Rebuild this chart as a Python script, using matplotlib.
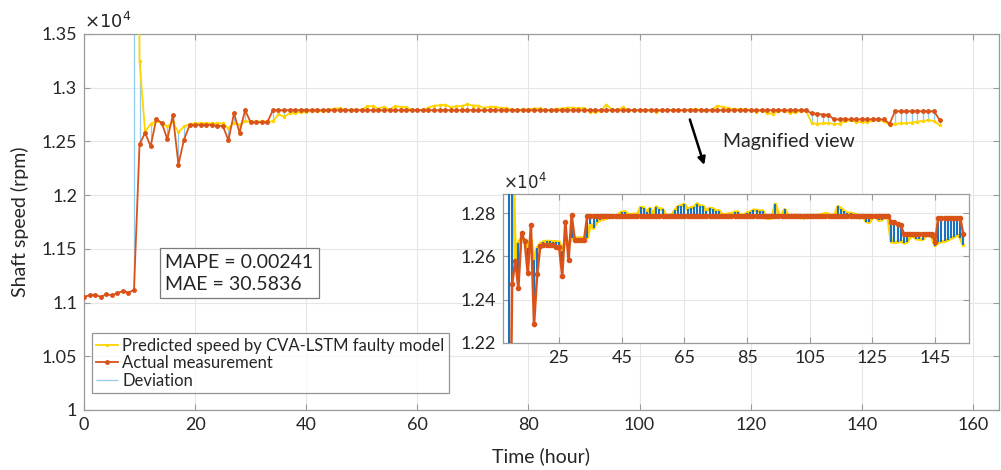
import numpy as np
import matplotlib
matplotlib.use("Agg")
import matplotlib.pyplot as plt
from matplotlib.ticker import FuncFormatter

plt.rcParams["font.family"] = ["Lato", "DejaVu Sans"]

# hourly shaft speed, rpm
hours = np.arange(0, 155)

actual = [
    11052, 11068, 11074, 11052, 11077, 11068, 11086, 11108, 11093, 11117,
    12472, 12580, 12454, 12708, 12672, 12521, 12744, 12285, 12517, 12650,
    12655, 12655, 12655, 12653, 12645, 12643, 12511, 12762, 12582, 12791,
    12678, 12678, 12678, 12678, 12790, 12790, 12790, 12790, 12790, 12790,
    12790, 12790, 12790, 12790, 12790, 12790, 12790, 12790, 12790, 12790,
    12790, 12790, 12790, 12790, 12790, 12790, 12790, 12790, 12790, 12790,
    12790, 12790, 12790, 12790, 12790, 12790, 12790, 12790, 12790, 12790,
    12790, 12790, 12790, 12790, 12790, 12790, 12790, 12790, 12790, 12790,
    12790, 12790, 12790, 12790, 12790, 12790, 12790, 12790, 12790, 12790,
    12790, 12790, 12790, 12790, 12790, 12790, 12790, 12790, 12790, 12790,
    12790, 12790, 12790, 12790, 12790, 12790, 12790, 12790, 12790, 12790,
    12790, 12790, 12790, 12790, 12790, 12790, 12790, 12790, 12790, 12790,
    12790, 12790, 12790, 12790, 12790, 12790, 12790, 12790, 12790, 12790,
    12790, 12760, 12758, 12749, 12747, 12705, 12705, 12705, 12705, 12705,
    12705, 12705, 12705, 12705, 12705, 12665, 12780, 12780, 12780, 12780,
    12780, 12780, 12780, 12780, 12702,
]

nan = np.nan
predicted = [
    nan, nan, nan, nan, nan, nan, nan, nan, nan, 25000,
    13249, 12587, 12664, 12690, 12670, 12639, 12680, 12584, 12639, 12660,
    12668, 12670, 12670, 12668, 12668, 12667, 12624, 12672, 12655, 12686,
    12685, 12686, 12686, 12686, 12686, 12752, 12730, 12760, 12768, 12772,
    12777, 12783, 12785, 12781, 12796, 12805, 12808, 12795, 12794, 12796,
    12795, 12828, 12826, 12805, 12823, 12795, 12830, 12820, 12819, 12791,
    12790, 12792, 12815, 12832, 12836, 12842, 12818, 12826, 12828, 12845,
    12834, 12833, 12811, 12823, 12822, 12812, 12813, 12795, 12792, 12798,
    12797, 12805, 12807, 12790, 12791, 12803, 12806, 12815, 12814, 12810,
    12812, 12778, 12777, 12780, 12843, 12798, 12790, 12818, 12791, 12789,
    12790, 12791, 12788, 12777, 12790, 12791, 12790, 12789, 12791, 12795,
    12799, 12797, 12780, 12792, 12832, 12822, 12810, 12801, 12800, 12798,
    12792, 12778, 12790, 12762, 12758, 12782, 12785, 12768, 12770, 12783,
    12780, 12668, 12665, 12667, 12672, 12663, 12665, 12690, 12695, 12682,
    12680, 12678, 12695, 12698, 12688, 12650, 12665, 12668, 12670, 12676,
    12685, 12690, 12700, 12688, 12652,
]

mape = 0.00241
mae = 30.5836

main_xticks = [0, 20, 40, 60, 80, 100, 120, 140, 160]
main_yticks = [10000, 10500, 11000, 11500, 12000, 12500, 13000, 13500]
inset_xticks = [25, 45, 65, 85, 105, 125, 145]
inset_yticks = [12200, 12400, 12600, 12800]

actual = np.array(actual, dtype=float)
predicted = np.array(predicted, dtype=float)
has_pred = ~np.isnan(predicted)

YELLOW = "#FFD400"
RED = "#D95319"
LIGHTBLUE = "#8FCBEE"
BLUE = "#1A73C0"
TXT = "#262626"
FRAME = "#9A9A9A"

sci = FuncFormatter(lambda v, p: f"{v / 1e4:g}")


def style_axes(ax, fs):
    ax.grid(True, color="#E6E6E6", linewidth=0.8)
    ax.set_axisbelow(True)
    ax.tick_params(direction="in", top=True, right=True, labelsize=fs,
                   colors=FRAME, labelcolor=TXT, length=4, pad=5)
    for s in ax.spines.values():
        s.set_color(FRAME)
        s.set_linewidth(0.9)
    ax.yaxis.set_major_formatter(sci)


fig = plt.figure(figsize=(10.01, 4.70), dpi=100)

ax = fig.add_axes([0.0839, 0.1277, 0.9141, 0.80])
ax.plot(hours, predicted, "-", color=YELLOW, lw=1.3, marker=".", ms=3,
        label="Predicted speed by CVA-LSTM faulty model", zorder=3)
ax.plot(hours, actual, "-", color=RED, lw=1.3, marker=".", ms=5,
        label="Actual measurement", zorder=4)
ax.vlines(hours[has_pred], actual[has_pred], predicted[has_pred],
          color=LIGHTBLUE, lw=0.9, label="Deviation", zorder=2)
ax.set_xlim(0, 164.7)
ax.set_ylim(10000, 13500)
ax.set_xticks(main_xticks)
ax.set_yticks(main_yticks)
style_axes(ax, 13)
ax.set_xlabel("Time (hour)", fontsize=14, color=TXT, labelpad=10)
ax.set_ylabel("Shaft speed (rpm)", fontsize=14, color=TXT, labelpad=9)
ax.text(0.0, 1.008, r"$\times10^4$", transform=ax.transAxes, fontsize=13,
        color=TXT, ha="left", va="bottom")

leg = ax.legend(loc="lower left", bbox_to_anchor=(0.009, 0.045),
                borderaxespad=0, fontsize=12, fancybox=False,
                handlelength=1.3, handletextpad=0.25, borderpad=0.25,
                labelspacing=0.1)
leg.get_frame().set_edgecolor("#7A7A7A")
leg.get_frame().set_linewidth(0.9)
for t in leg.get_texts():
    t.set_color(TXT)

ax.text(0.089, 0.364, f"MAPE = {mape}\nMAE = {mae}", transform=ax.transAxes,
        fontsize=14, color=TXT, va="center", ha="left", linespacing=1.35,
        bbox=dict(boxstyle="square,pad=0.3", fc="white", ec="#7A7A7A", lw=0.9))

ax.annotate("", xy=(111.8, 12256), xytext=(108.9, 12729),
            arrowprops=dict(arrowstyle="-|>", color="black", lw=1.8,
                            mutation_scale=11))
ax.text(115.0, 12497, "Magnified view", fontsize=14, color=TXT,
        ha="left", va="center")

# magnified view
axi = fig.add_axes([0.5022, 0.2709, 0.4661, 0.3164])
axi.set_facecolor("white")
axi.plot(hours, predicted, "-", color=YELLOW, lw=2.4, zorder=2)
axi.vlines(hours[has_pred], actual[has_pred], predicted[has_pred],
           color=BLUE, lw=1.5, zorder=3)
axi.plot(hours, actual, "-", color=RED, lw=1.8, marker="o", ms=3,
         zorder=4)
axi.set_xlim(7, 155.9)
axi.set_ylim(12200, 12890)
axi.set_xticks(inset_xticks)
axi.set_yticks(inset_yticks)
style_axes(axi, 13)
axi.text(0.0, 1.01, r"$\times10^4$", transform=axi.transAxes, fontsize=12,
         color=TXT, ha="left", va="bottom")

fig.savefig("out.png", dpi=100)
